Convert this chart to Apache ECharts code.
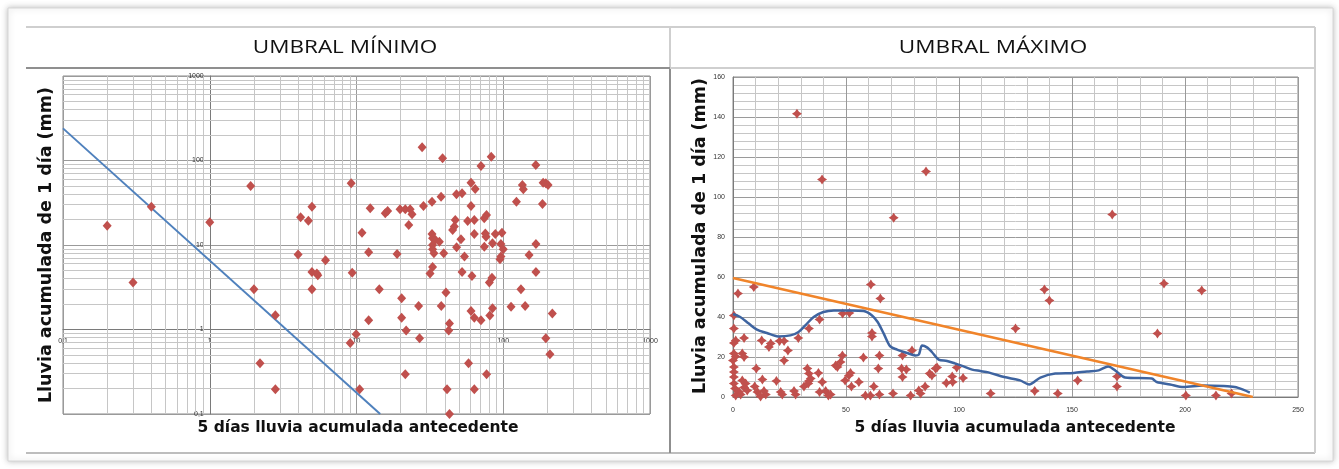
<!DOCTYPE html>
<html>
<head>
<meta charset="utf-8">
<script src="https://cdn.jsdelivr.net/npm/echarts@6/dist/echarts.min.js"></script>
<style>
  html, body { margin: 0; padding: 0; background: #ffffff; }
  #chart { width: 1339px; height: 469px; }
</style>
</head>
<body>
<div id="chart"></div>
<script>
// ---- Panel titles and axis titles ----
const titleMin = 'UMBRAL MÍNIMO';
const titleMax = 'UMBRAL MÁXIMO';
const yTitle = 'Lluvia acumulada de 1 día (mm)';
const xTitle = '5 días lluvia acumulada antecedente';

// ---- Left panel (log-log): rain events [5-day antecedent, 1-day rain] ----
const minEvents = [
  [0.2,16.9],[0.4,28.4],[1.0,18.6],[1.9,49.9],[4.16,21.3],[4.7,19.4],[4.97,28.4],[9.2,53.7],
  [28,143],[38.6,106],[82.8,111],[70.5,86],[166.7,88.5],[60.3,54.6],[64.4,46],[48,39.8],[52.4,40.9],
  [37.7,37.3],[32.7,32.5],[28.6,29],[135,51.3],[137,45.6],[187,54.6],[202,51.3],[195,53.7],[123,32.5],
  [185,30.5],[12.4,27.2],[15.7,23.7],[16.3,25.2],[19.8,26.4],[21.5,26.4],[23.2,26.4],[23.9,23.1],
  [22.7,17.3],[60.3,29],[76.9,22.6],[74.2,20.7],[47.1,19.8],[57.2,19.2],[63.5,19.8],[45.2,15.1],
  [46.4,16.5],[10.9,14],[32.7,13.5],[34.4,11.5],[36.7,10.9],[33,12],[51.5,11.7],[63.5,13.5],
  [75.5,13.7],[76.3,12.5],[88.3,13.5],[98,14],[84.5,10.5],[96.4,10.3],[74.3,9.55],[100,8.9],
  [48.1,9.4],[33,10],[33,8.9],[33.7,8.0],[39.3,8.0],[12.1,8.2],[18.9,7.8],[54.4,7.3],[96.4,7.3],
  [95,6.8],[167,10.3],[150,7.6],
  [0.3,3.6],[2.0,3.0],[2.8,1.47],[4.0,7.7],[4.97,4.8],[5.45,4.4],[5.37,4.6],[4.97,3.0],[6.15,6.6],
  [9.35,4.7],[2.2,0.40],[2.8,0.196],[9.06,0.69],
  [33,5.5],[31.7,4.6],[52.4,4.8],[61.2,4.3],[80.4,3.6],[83.8,4.1],[167,4.8],[14.3,3.0],[20.3,2.34],
  [26.5,1.9],[40.7,2.75],[37.8,1.9],[132,3.0],[113,1.86],[141,1.9],[216,1.55],[60.3,1.66],
  [84.5,1.78],[63.5,1.38],[70.5,1.29],[81,1.46],[12.1,1.29],[20.3,1.38],[21.8,0.97],[43,1.18],
  [42.5,0.97],[9.95,0.88],[26.9,0.79],[195,0.79],[208,0.51],[58,0.40],[77,0.295],[21.5,0.295],
  [10.5,0.196],[41.4,0.196],[63.5,0.196],[43,0.1]
];
// Minimum threshold line (straight in log-log space)
const minThreshold = [[0.1, 240], [14.5, 0.1]];

// ---- Right panel (linear): rain events ----
const maxEvents = [
  [28.3,141.6],[39.4,108.8],[71.1,89.6],[85.4,112.7],[167.8,91.3],
  [2.2,51.7],[9.2,55],[61,56.3],[65.2,49.2],[137.8,53.7],[140,48.3],[125,34.2],[190.7,56.7],
  [207.4,53.3],[187.8,31.7],
  [0.4,40.8],[0.4,34.2],[1.2,28.3],[0.4,27],[4.9,29.5],[12.7,28.3],[15.9,25],[16.7,26.7],[20.6,28],
  [22.6,28],[24.3,23.3],[22.6,18.3],[28.9,29.5],[33.6,34.2],[38.3,38.8],[48.5,41.7],[51.5,42],
  [0.4,21.7],[1.2,20.3],[0,18.3],[4.1,21.7],[4.9,20],[0.4,15],[0.4,12.5],[0.4,10],[0.4,6.7],
  [0.9,4.2],[2.7,2.5],[1.2,0.8],[4.1,8.3],[5.6,6.7],[4.9,4.7],[6.3,3.3],[3.4,1.3],[10.3,14.2],
  [13,8.7],[9.6,5.3],[10.8,2.5],[13.7,3],[14.5,1.2],[12.2,0.3],[19.2,8],[21.1,2.5],[21.8,1.2],
  [27,3],[27.7,1.3],[31.4,5.3],[32.9,14.2],[33.6,11.7],[34.4,9.2],[33.6,8],[33.3,6.7],[37.8,12],
  [39.5,7.5],[38.3,2.5],[41,3],[42.2,0.8],[43.2,1.3],[46.2,15],[47.6,17.5],[45.4,15.8],[48.4,20.8],
  [52,12],[51.3,10.8],[49.6,8.3],
  [61.5,32],[61.5,30.3],[64.8,20.8],[57.7,19.7],[79.2,23.3],[75,20.8],[55.7,7.5],[52.4,5.3],
  [62.3,5.3],[64.3,14.2],[74.6,14.2],[76.7,13.7],[75,10],[87,11.7],[88,10.8],[89.6,14.2],[90.3,14.7],
  [94.4,7],[97,10.3],[97.2,7.5],[99,14.7],[101.8,9.5],[85,5.3],[82.2,3.3],[83,1.7],[78.6,0.8],
  [70.8,1.7],[64.8,1.2],[60.8,0.8],[58.6,0.8],
  [114,1.7],[133.5,3],[143.7,1.7],[152.5,8.3],[169.9,10.3],[169.9,5.3],[200.4,0.8],[213.7,0.8],
  [220.6,1.7]
];
// Moving envelope of the events
const envelope = [
  [0,41.5],[3.2,40],[7,36.7],[10.6,33.7],[15,32],[20,30.3],[25.4,30.8],[29,32.5],[32,35.8],
  [35.7,40],[40,42.5],[44.6,43.3],[52,43.3],[57.8,43],[61.5,40.8],[64,37.5],[66.7,31.7],[69.6,25.3],
  [72.6,23.7],[77,22],[80.7,20.8],[82.2,21.2],[83.7,25.8],[86,24.7],[88,22.5],[91,18.7],[94.7,18],
  [98.4,16.7],[102,15.3],[105.8,13.7],[109.4,13],[113,12.3],[120,10],[127,8.3],[131,6.3],[136,9.7],
  [142.6,11.7],[150.7,12],[156.6,12.8],[161.8,13.3],[166,15.3],[170,12.5],[173.5,9.7],[185.3,9.2],
  [187.5,7.5],[193.4,6.3],[199.3,5],[208,5.8],[217,5.5],[222,5],[225.7,3.7],[228.7,2.2]
];
// Maximum threshold line
const maxThreshold = [[0, 59.5], [230, 0]];

// ---- Styling ----
const RED = '#c0504d';
const MAJOR = '#9a9a9a';
const MINOR = '#c6c6c6';
const TICK_FONT = { fontSize: 7, color: '#333', fontFamily: 'Liberation Sans' };
const starPath = 'path://M0,-10 L4,-4 L10,0 L4,4 L0,10 L-4,4 L-10,0 L-4,-4 Z';

const leftGrid = { left: 63, top: 76, width: 587, height: 338 };
const rightGrid = { left: 733, top: 77, width: 565, height: 320 };

// minor log grid values 2..9 in each decade
const minorLog = [];
for (let d = 0.1; d < 999; d *= 10) {
  for (let k = 2; k <= 9; k++) minorLog.push(+(k * d).toPrecision(3));
}

const commaFmt = v => String(+v.toPrecision(3)).replace('.', ',');

const chart = echarts.init(document.getElementById('chart'), null, { renderer: 'canvas' });

const titleStyle = { fill: '#111', font: '18px "Open Sans"', textAlign: 'center', textVerticalAlign: 'middle' };
const yTitleStyle = { fill: '#111', font: 'bold 17.5px "DejaVu Sans"', textAlign: 'center', textVerticalAlign: 'middle' };
const xTitleStyle = { fill: '#111', font: 'bold 15.5px "DejaVu Sans"', textAlign: 'center', textVerticalAlign: 'middle' };

chart.setOption({
  animation: false,
  backgroundColor: '#ffffff',
  grid: [
    Object.assign({ show: true, borderColor: '#8a8a8a', borderWidth: 1, backgroundColor: '#fff' }, leftGrid),
    Object.assign({ show: true, borderColor: '#8a8a8a', borderWidth: 1, backgroundColor: '#fff' }, rightGrid)
  ],
  xAxis: [
    {
      type: 'log', logBase: 10, gridIndex: 0, min: 0.1, max: 1000,
      position: 'bottom', offset: -leftGrid.height / 4,
      axisLine: { show: true, onZero: false, lineStyle: { color: '#7a7a7a' } },
      axisTick: { show: false },
      axisLabel: Object.assign({ margin: 8, formatter: commaFmt, showMinLabel: true, showMaxLabel: true }, TICK_FONT),
      splitLine: { show: true, lineStyle: { color: MAJOR } }
    },
    {
      type: 'value', gridIndex: 1, min: 0, max: 250, interval: 50,
      axisLine: { show: true, onZero: false, lineStyle: { color: '#7a7a7a' } },
      axisTick: { show: false },
      axisLabel: Object.assign({ margin: 10 }, TICK_FONT),
      splitLine: { show: true, lineStyle: { color: MAJOR } },
      minorTick: { show: false, splitNumber: 5 },
      minorSplitLine: { show: true, lineStyle: { color: MINOR } }
    }
  ],
  yAxis: [
    {
      type: 'log', logBase: 10, gridIndex: 0, min: 0.1, max: 1000,
      position: 'left', offset: -leftGrid.width / 4,
      axisLine: { show: true, onZero: false, lineStyle: { color: '#7a7a7a' } },
      axisTick: { show: false },
      axisLabel: Object.assign({ margin: 6, formatter: commaFmt, showMinLabel: true, showMaxLabel: true }, TICK_FONT),
      splitLine: { show: true, lineStyle: { color: MAJOR } }
    },
    {
      type: 'value', gridIndex: 1, min: 0, max: 160, interval: 20,
      axisLine: { show: true, onZero: false, lineStyle: { color: '#7a7a7a' } },
      axisTick: { show: false },
      axisLabel: Object.assign({ margin: 8 }, TICK_FONT),
      splitLine: { show: true, lineStyle: { color: MAJOR } },
      minorTick: { show: false, splitNumber: 5 },
      minorSplitLine: { show: true, lineStyle: { color: MINOR } }
    }
  ],
  series: [
    {
      // minor logarithmic grid of the left panel, kept underneath the marks
      type: 'line', xAxisIndex: 0, yAxisIndex: 0, data: [], z: 1, silent: true,
      markLine: {
        z: 1, silent: true, symbol: 'none', animation: false,
        label: { show: false },
        emphasis: { disabled: true },
        lineStyle: { color: MINOR, width: 1, type: 'solid' },
        data: minorLog.map(v => ({ xAxis: v })).concat(minorLog.map(v => ({ yAxis: v })))
      }
    },
    {
      name: 'Umbral mínimo', type: 'line', xAxisIndex: 0, yAxisIndex: 0,
      data: minThreshold, symbol: 'none', z: 6,
      lineStyle: { color: '#4f81bd', width: 2 }
    },
    {
      name: 'Eventos', type: 'scatter', xAxisIndex: 0, yAxisIndex: 0,
      data: minEvents, symbol: 'diamond', symbolSize: [9, 10], z: 7,
      itemStyle: { color: RED, opacity: 1 }
    },
    {
      name: 'Eventos', type: 'scatter', xAxisIndex: 1, yAxisIndex: 1,
      data: maxEvents, symbol: starPath, symbolSize: 10, z: 3,
      itemStyle: { color: RED, opacity: 1 }
    },
    {
      name: 'Envolvente', type: 'line', xAxisIndex: 1, yAxisIndex: 1,
      data: envelope, symbol: 'none', smooth: 0.3, z: 4,
      lineStyle: { color: '#3e64a0', width: 2.5 }
    },
    {
      name: 'Umbral máximo', type: 'line', xAxisIndex: 1, yAxisIndex: 1,
      data: maxThreshold, symbol: 'none', z: 4,
      lineStyle: { color: '#f0842a', width: 2.5 }
    }
  ],
  graphic: [
    // outer sheet with soft shadow
    { type: 'rect', z: -10, silent: true,
      shape: { x: 8, y: 8, width: 1325, height: 453 },
      style: { fill: '#fff', stroke: '#d6d6d6', lineWidth: 1, shadowBlur: 6, shadowColor: 'rgba(0,0,0,0.25)' } },
    // panel frames
    { type: 'line', silent: true, shape: { x1: 26, y1: 27, x2: 1315, y2: 27 }, style: { stroke: '#cfcfcf', lineWidth: 2 } },
    { type: 'line', silent: true, shape: { x1: 26, y1: 453, x2: 1315, y2: 453 }, style: { stroke: '#bdbdbd', lineWidth: 2 } },
    { type: 'line', silent: true, shape: { x1: 1315, y1: 27, x2: 1315, y2: 453 }, style: { stroke: '#cfcfcf', lineWidth: 2 } },
    { type: 'line', silent: true, shape: { x1: 670, y1: 27, x2: 670, y2: 68 }, style: { stroke: '#cfcfcf', lineWidth: 2 } },
    { type: 'line', silent: true, shape: { x1: 670, y1: 68, x2: 670, y2: 453 }, style: { stroke: '#8f8f8f', lineWidth: 2 } },
    { type: 'line', silent: true, shape: { x1: 26, y1: 68, x2: 670, y2: 68 }, style: { stroke: '#8f8f8f', lineWidth: 2 } },
    { type: 'line', silent: true, shape: { x1: 670, y1: 68, x2: 1315, y2: 68 }, style: { stroke: '#cfcfcf', lineWidth: 2 } },
    // panel titles (slightly widened lettering)
    { type: 'text', x: 345, y: 48, scaleX: 1.25, silent: true, style: Object.assign({ text: titleMin }, titleStyle) },
    { type: 'text', x: 993, y: 48, scaleX: 1.25, silent: true, style: Object.assign({ text: titleMax }, titleStyle) },
    // axis titles
    { type: 'text', x: 46, y: 245, rotation: Math.PI / 2, silent: true, style: Object.assign({ text: yTitle }, yTitleStyle) },
    { type: 'text', x: 358, y: 428, silent: true, style: Object.assign({ text: xTitle }, xTitleStyle) },
    { type: 'text', x: 700, y: 236, rotation: Math.PI / 2, silent: true, style: Object.assign({ text: yTitle }, yTitleStyle) },
    { type: 'text', x: 1015, y: 428, silent: true, style: Object.assign({ text: xTitle }, xTitleStyle) }
  ]
});
</script>
</body>
</html>
